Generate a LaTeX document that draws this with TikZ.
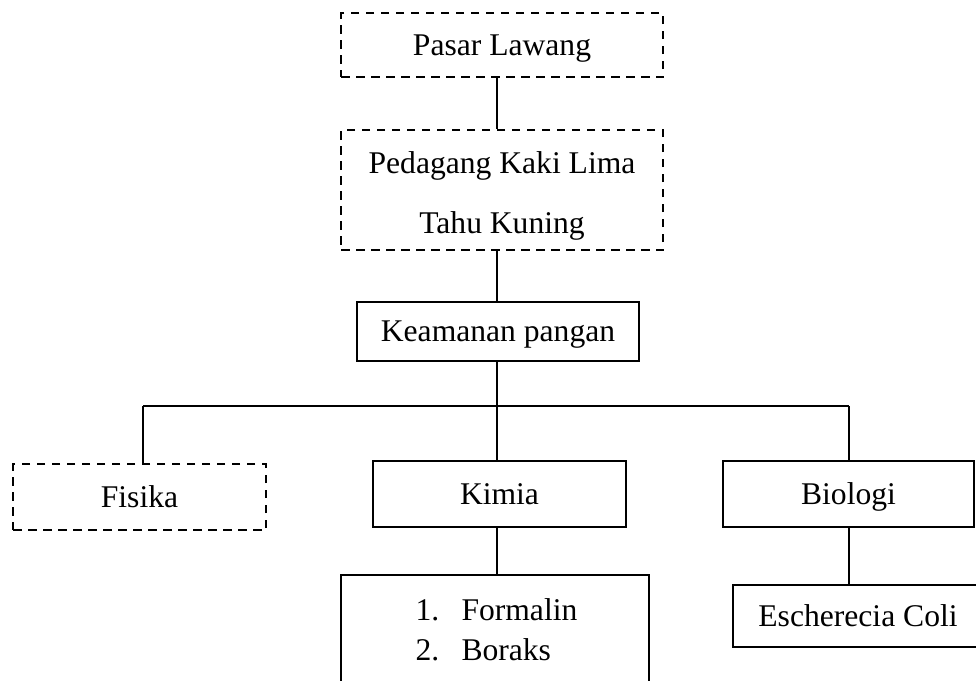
\documentclass[tikz,border=0pt]{standalone}
\usepackage{fontspec}
\setmainfont{Liberation Serif}
\begin{document}
\begin{tikzpicture}[x=1pt,y=1pt,
  txt/.style={font=\fontsize{31.6}{38}\selectfont},
  box/.style={draw, line width=2.6pt, inner sep=0pt, txt, text height=25pt, text depth=5pt},
  dbox/.style={box, line width=2.6pt, dash pattern=on 8.5pt off 6.5pt},
  conn/.style={line width=1.2pt}]
\path[use as bounding box, clip] (0,0) rectangle (976,-680);
% boxes
\node[dbox, minimum width=322pt, minimum height=64pt] (pasar) at (502,-45) {Pasar Lawang};
\node[dbox, minimum width=322pt, minimum height=120pt, align=center,
      font=\fontsize{31.6}{60}\selectfont, text height=91pt, text depth=5pt] (pkl) at (502,-190)
      {Pedagang Kaki Lima\\Tahu Kuning};
\node[box, minimum width=282pt, minimum height=59pt] (kea) at (498,-331.5) {Keamanan pangan};
\node[dbox, minimum width=253pt, minimum height=66pt] (fis) at (139.5,-497) {Fisika};
\node[box, minimum width=253pt, minimum height=66pt] (kim) at (499.5,-494) {Kimia};
\node[box, minimum width=251pt, minimum height=66pt] (bio) at (848.5,-494) {Biologi};
\node[box, minimum width=308pt, minimum height=150pt] (form) at (495,-650) {};
\node[txt, anchor=base west] (f1) at (412,-620) {1.\hspace{22.3pt}Formalin};
\node[txt, anchor=base west] (f2) at (412,-660) {2.\hspace{22.3pt}Boraks};
\node[box, minimum width=250pt, minimum height=62pt] (esch) at (858,-616) {Escherecia Coli};
% branch coordinates
\coordinate (hl) at (143,-406);
\coordinate (hm) at (497,-406);
\coordinate (hr) at (849,-406);
% connectors
\draw[conn] (pasar.south -| hm) -- (pkl.north -| hm);
\draw[conn] (pkl.south -| hm) -- (kea.north -| hm);
\draw[conn] (kea.south -| hm) -- (hm);
\draw[conn] (hl) -- (hr);
\draw[conn] (hl) -- (fis.north -| hl);
\draw[conn] (hm) -- (kim.north -| hm);
\draw[conn] (hr) -- (bio.north -| hr);
\draw[conn] (kim.south -| hm) -- (form.north -| hm);
\draw[conn] (bio.south -| hr) -- (esch.north -| hr);
\end{tikzpicture}
\end{document}
